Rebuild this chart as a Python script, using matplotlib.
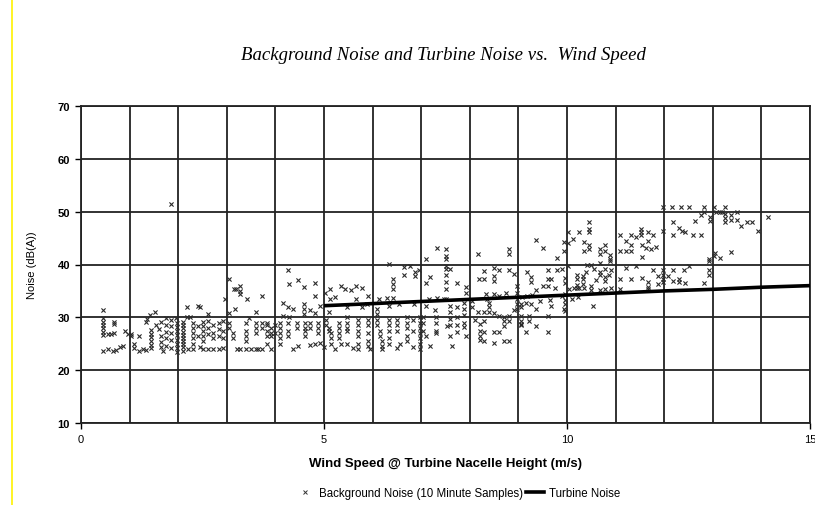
import matplotlib
matplotlib.use('Agg')
from matplotlib import pyplot as plt
from matplotlib.lines import Line2D

bg_0_1 = [(0.45, 31.3), (0.45, 29.8), (0.45, 29.2), (0.45, 28.5), (0.45, 27.9), (0.45, 27.3), (0.45, 26.6),
          (0.55, 26.8), (0.62, 26.9), (0.68, 29.2), (0.68, 28.7), (0.68, 27.0), (0.45, 23.7), (0.55, 24.0),
          (0.65, 23.6), (0.72, 23.9), (0.80, 24.3), (0.87, 24.6), (0.90, 27.4), (0.97, 26.8)]
bg_1_2 = [(1.02, 26.9), (1.02, 26.5), (1.10, 25.0), (1.10, 24.2), (1.20, 23.6), (1.20, 26.4), (1.27, 24.0),
          (1.33, 23.8), (1.33, 29.1), (1.35, 29.7), (1.43, 30.5), (1.53, 31.0), (1.45, 27.6), (1.45, 26.9),
          (1.45, 26.2), (1.45, 25.5), (1.45, 24.8), (1.45, 24.2), (1.55, 28.6), (1.60, 27.8), (1.65, 29.2),
          (1.65, 26.4), (1.65, 25.4), (1.65, 24.3), (1.68, 23.6), (1.75, 29.9), (1.75, 28.6), (1.75, 27.3),
          (1.75, 26.0), (1.75, 24.6), (1.85, 29.5), (1.85, 28.3), (1.85, 27.0), (1.85, 25.7), (1.85, 24.2),
          (1.85, 51.5), (1.95, 29.8), (1.97, 29.0), (1.97, 28.2), (1.97, 27.4), (1.97, 26.6), (1.97, 25.8),
          (1.97, 25.0), (1.97, 24.2), (1.97, 23.5)]
bg_2_3 = [(2.18, 31.9), (2.40, 32.1), (2.18, 30.0), (2.25, 30.0), (2.10, 29.1), (2.10, 28.5), (2.10, 27.9),
          (2.10, 27.3), (2.10, 26.7), (2.10, 26.1), (2.10, 25.5), (2.10, 24.9), (2.10, 24.3), (2.10, 23.6),
          (2.30, 29.0), (2.30, 28.0), (2.30, 27.0), (2.30, 26.0), (2.30, 25.0), (2.30, 24.0), (2.45, 24.3),
          (2.52, 29.2), (2.52, 28.3), (2.52, 27.4), (2.52, 26.5), (2.52, 25.5), (2.52, 24.0), (2.62, 29.4),
          (2.62, 28.0), (2.62, 26.8), (2.62, 24.0), (2.72, 28.5), (2.72, 27.0), (2.72, 26.0), (2.72, 24.0),
          (2.83, 29.0), (2.83, 27.8), (2.83, 26.5), (2.83, 24.0), (2.93, 29.3), (2.93, 27.5), (2.93, 26.0),
          (2.93, 24.2), (2.62, 30.6), (2.45, 32.0), (2.40, 28.4), (2.40, 26.5), (2.20, 24.0)]
bg_3_4 = [(3.05, 37.3), (3.14, 35.4), (3.19, 35.4), (3.27, 36.0), (3.27, 35.0), (3.27, 34.4), (3.41, 33.5),
          (3.72, 34.1), (2.96, 33.5), (3.05, 30.8), (3.17, 31.6), (3.60, 31.1), (3.45, 29.8), (3.05, 29.0),
          (3.05, 28.0), (3.12, 27.0), (3.12, 26.0), (3.20, 24.0), (3.27, 24.0), (3.40, 29.0), (3.40, 27.5),
          (3.40, 26.5), (3.40, 25.5), (3.40, 24.0), (3.60, 29.0), (3.60, 28.0), (3.60, 27.0), (3.60, 24.0),
          (3.72, 29.0), (3.72, 28.0), (3.72, 24.0), (3.82, 29.0), (3.82, 28.5), (3.82, 27.5), (3.82, 26.5),
          (3.82, 25.0), (3.90, 28.0), (3.90, 27.0), (3.90, 26.5), (3.90, 24.0), (3.50, 24.0), (3.65, 24.0)]
bg_4_5 = [(4.25, 38.9), (4.27, 36.3), (4.46, 37.1), (4.59, 35.7), (4.82, 36.5), (4.82, 34.1), (4.16, 32.8),
          (4.25, 31.9), (4.37, 31.6), (4.59, 32.5), (4.59, 31.6), (4.59, 30.6), (4.71, 31.3), (4.82, 30.8),
          (4.92, 32.2), (4.15, 30.3), (4.27, 30.0), (4.10, 29.0), (4.10, 28.0), (4.10, 27.0), (4.10, 26.0),
          (4.10, 25.0), (4.25, 29.0), (4.25, 27.5), (4.25, 26.5), (4.45, 29.0), (4.45, 28.0), (4.60, 29.0),
          (4.60, 28.0), (4.60, 27.5), (4.60, 26.5), (4.71, 29.0), (4.71, 28.0), (4.88, 29.0), (4.88, 28.0),
          (4.88, 27.0), (4.37, 24.0), (4.47, 24.6), (4.71, 24.8), (4.82, 25.0), (4.92, 25.2), (4.00, 28.5),
          (4.00, 27.0)]
bg_5_6 = [(5.03, 34.7), (5.13, 35.4), (5.34, 36.0), (5.44, 35.4), (5.56, 35.1), (5.65, 36.0), (5.78, 35.5),
          (5.90, 34.1), (5.13, 33.5), (5.23, 33.8), (5.65, 33.5), (5.47, 31.9), (5.10, 31.0), (5.78, 31.9),
          (5.88, 32.5), (5.05, 29.5), (5.05, 28.5), (5.10, 28.0), (5.10, 27.5), (5.15, 27.0), (5.15, 26.0),
          (5.15, 25.0), (5.30, 29.0), (5.30, 28.0), (5.30, 27.0), (5.30, 26.0), (5.34, 25.0), (5.23, 24.0),
          (5.47, 30.0), (5.47, 29.0), (5.47, 28.0), (5.47, 27.5), (5.47, 25.0), (5.70, 29.5), (5.70, 28.5),
          (5.70, 27.5), (5.70, 26.5), (5.70, 25.0), (5.70, 24.0), (5.90, 29.5), (5.90, 28.5), (5.90, 27.0),
          (5.90, 25.5), (5.90, 24.5), (5.95, 24.0), (5.00, 24.3), (5.60, 24.2)]
bg_6_7 = [(6.33, 40.1), (6.43, 37.3), (6.43, 36.3), (6.43, 35.4), (6.64, 39.5), (6.64, 38.1), (6.76, 39.7),
          (6.88, 38.6), (6.88, 37.9), (6.95, 39.0), (6.13, 33.5), (6.30, 33.6), (6.43, 33.6), (6.10, 31.6),
          (6.10, 30.6), (6.33, 32.2), (6.54, 32.5), (6.85, 32.5), (6.10, 29.5), (6.10, 28.5), (6.15, 27.5),
          (6.15, 26.5), (6.20, 25.5), (6.20, 24.5), (6.20, 24.0), (6.33, 29.5), (6.33, 28.5), (6.33, 27.5),
          (6.33, 26.0), (6.33, 25.0), (6.50, 29.5), (6.50, 28.5), (6.50, 27.5), (6.50, 24.2), (6.70, 30.0),
          (6.70, 29.0), (6.70, 28.0), (6.70, 26.5), (6.70, 25.5), (6.83, 29.5), (6.83, 27.5), (6.83, 24.3),
          (6.98, 30.0), (6.98, 29.0), (6.98, 28.0), (6.98, 27.0), (6.98, 26.0), (6.98, 25.0), (6.98, 24.0),
          (6.57, 25.0)]
bg_7_8 = [(7.09, 41.0), (7.33, 43.1), (7.19, 37.6), (7.09, 36.5), (7.50, 38.1), (7.16, 33.5), (7.33, 33.6),
          (7.46, 33.5), (7.09, 32.2), (7.29, 31.3), (7.03, 30.0), (7.03, 29.0), (7.03, 27.5), (7.30, 30.0),
          (7.30, 29.0), (7.30, 27.5), (7.30, 27.0), (7.19, 24.6), (7.09, 26.5), (7.52, 43.0), (7.52, 41.7),
          (7.52, 41.1), (7.52, 39.7), (7.52, 39.2), (7.60, 39.2), (7.52, 36.6), (7.52, 35.4), (7.52, 33.5),
          (7.74, 36.5), (7.92, 35.7), (7.92, 34.7), (7.60, 32.2), (7.60, 31.0), (7.60, 29.7), (7.60, 28.5),
          (7.74, 32.0), (7.74, 30.0), (7.74, 28.6), (7.88, 32.8), (7.88, 31.6), (7.88, 30.4), (7.88, 29.0),
          (7.88, 28.1), (7.74, 27.3), (7.60, 26.5), (7.64, 24.6), (7.92, 26.5), (7.54, 28.4)]
bg_8_9 = [(8.16, 42.0), (8.29, 38.7), (8.29, 37.2), (8.19, 37.2), (8.50, 39.3), (8.50, 37.8), (8.50, 36.9),
          (8.60, 38.9), (8.80, 43.0), (8.80, 42.0), (8.80, 38.9), (8.91, 38.2), (8.33, 34.4), (8.50, 34.4),
          (8.60, 34.0), (8.74, 34.7), (8.40, 32.8), (8.40, 31.9), (8.05, 31.9), (8.16, 31.1), (8.29, 31.0),
          (8.40, 31.0), (8.50, 30.8), (8.60, 30.3), (8.70, 30.0), (8.80, 30.3), (8.80, 29.3), (8.20, 28.7),
          (8.20, 27.5), (8.20, 26.5), (8.20, 25.8), (8.29, 29.3), (8.29, 27.3), (8.29, 25.6), (8.50, 27.2),
          (8.60, 27.2), (8.50, 25.2), (8.70, 25.6), (8.80, 25.6), (8.70, 29.4), (8.70, 28.4), (8.91, 31.3),
          (8.10, 29.5), (8.35, 33.5), (8.05, 33.0)]
bg_9_10 = [(9.36, 44.7), (9.50, 43.1), (9.80, 41.2), (9.93, 44.2), (9.93, 42.6), (9.17, 38.6), (9.25, 37.6),
           (9.25, 36.6), (9.36, 35.2), (9.50, 36.0), (9.60, 38.9), (9.60, 37.3), (9.68, 37.3), (9.80, 38.9),
           (9.90, 39.2), (9.60, 36.0), (8.97, 36.0), (8.97, 34.7), (8.97, 33.5), (8.97, 32.5), (8.97, 31.6),
           (9.08, 33.8), (9.17, 34.1), (9.28, 34.2), (9.66, 33.2), (9.68, 32.2), (9.90, 34.1), (9.93, 31.6),
           (9.05, 32.5), (9.05, 31.9), (9.15, 32.8), (9.25, 32.5), (9.36, 31.6), (9.60, 30.3), (9.05, 30.3),
           (9.05, 29.3), (9.05, 28.5), (9.22, 30.3), (9.22, 29.3), (9.36, 28.4), (9.60, 27.3), (9.15, 27.2),
           (9.05, 28.7), (9.95, 37.5), (9.95, 36.5), (9.95, 34.5), (9.95, 33.2), (9.95, 32.5), (9.95, 31.2),
           (9.75, 35.5), (9.45, 33.0)]
bg_10_11 = [(10.45, 48.1), (10.45, 46.7), (10.45, 46.2), (10.24, 46.2), (10.03, 46.1), (10.12, 44.9),
            (10.03, 44.1), (10.36, 44.2), (10.45, 43.6), (10.45, 43.0), (10.34, 42.6), (10.67, 43.0),
            (10.67, 42.0), (10.79, 43.6), (10.79, 42.6), (10.89, 41.8), (10.89, 41.1), (10.89, 40.6),
            (10.03, 39.7), (10.41, 39.9), (10.50, 39.9), (10.67, 40.3), (10.56, 39.2), (10.79, 39.2),
            (10.90, 38.9), (10.20, 38.1), (10.20, 37.3), (10.20, 36.2), (10.20, 35.5), (10.32, 37.8),
            (10.32, 37.2), (10.32, 36.3), (10.67, 38.6), (10.67, 38.1), (10.79, 37.6), (10.79, 36.8),
            (10.87, 38.1), (10.05, 35.4), (10.14, 35.5), (10.25, 35.5), (10.36, 35.5), (10.50, 36.0),
            (10.50, 35.1), (10.67, 35.1), (10.79, 35.4), (10.90, 35.5), (10.10, 33.5), (10.22, 33.8),
            (10.54, 32.2), (10.60, 37.0), (10.40, 38.5)]
bg_11_12 = [(11.09, 45.6), (11.21, 44.5), (11.21, 42.6), (11.32, 45.5), (11.32, 43.6), (11.32, 42.6),
            (11.41, 45.2), (11.52, 46.7), (11.52, 46.1), (11.52, 45.6), (11.66, 46.1), (11.66, 44.5),
            (11.76, 45.5), (11.54, 43.6), (11.62, 43.1), (11.73, 43.0), (11.83, 43.3), (11.54, 41.4),
            (11.09, 42.6), (11.42, 39.8), (11.21, 39.3), (11.09, 37.2), (11.32, 37.2), (11.54, 37.4),
            (11.66, 36.6), (11.66, 35.7), (11.66, 35.3), (11.76, 38.9), (11.87, 37.9), (11.87, 36.3),
            (11.09, 35.4)]
bg_12_13 = [(11.97, 50.8), (12.17, 50.8), (12.34, 50.8), (12.50, 50.8), (12.19, 48.1), (11.97, 46.4),
            (12.19, 45.5), (12.30, 47.0), (12.36, 46.4), (12.42, 46.1), (11.97, 38.9), (11.97, 38.1),
            (11.97, 37.3), (12.07, 37.8), (12.19, 38.9), (12.40, 38.9), (12.51, 39.7), (12.19, 36.8),
            (12.31, 37.3), (12.31, 36.7), (12.42, 36.5), (11.97, 36.6), (12.82, 50.8), (12.82, 50.0),
            (12.63, 48.3), (12.75, 49.3), (12.94, 49.0), (12.94, 48.3), (12.59, 45.5), (12.75, 45.5),
            (12.92, 41.1), (12.92, 40.6), (12.92, 38.9), (12.92, 38.1), (12.82, 36.5)]
bg_13_15 = [(13.02, 50.8), (13.07, 50.0), (13.14, 50.0), (13.18, 50.0), (13.26, 50.8), (13.26, 49.6),
            (13.26, 48.8), (13.26, 48.1), (13.38, 49.3), (13.38, 48.5), (13.50, 50.0), (13.50, 48.5),
            (13.59, 47.2), (13.71, 48.0), (13.81, 48.1), (13.93, 46.4), (13.05, 42.1), (13.15, 41.2),
            (13.38, 42.3), (13.02, 41.7), (14.14, 49.0)]

# turbine noise curve
turbine_speed = [5, 6, 7, 8, 9, 10, 11, 12, 13, 14, 15]
turbine_noise = [32.2, 32.6, 33.0, 33.4, 33.8, 34.2, 34.6, 35.0, 35.3, 35.7, 36.0]

bg_all = (bg_0_1 + bg_1_2 + bg_2_3 + bg_3_4 + bg_4_5 + bg_5_6 + bg_6_7 + bg_7_8 +
          bg_8_9 + bg_9_10 + bg_10_11 + bg_11_12 + bg_12_13 + bg_13_15)
bg_speed = [p[0] for p in bg_all]
bg_noise = [p[1] for p in bg_all]

sans = ['Liberation Sans Narrow', 'Liberation Sans', 'DejaVu Sans']

fig = plt.figure(figsize=(8.15, 5.06), dpi=100)
fig.set_facecolor('white')
ax = fig.add_axes([81 / 815, 82 / 506, 729 / 815, 317 / 506])

ax.scatter(bg_speed, bg_noise, marker='x', s=9, linewidths=0.8, color='#2a2a2a', zorder=3)
ax.plot(turbine_speed, turbine_noise, color='black', lw=2.6, zorder=4, solid_capstyle='butt')

ax.set_xlim(0, 15)
ax.set_ylim(10, 70)
ax.set_xticks([0, 5, 10, 15])
ax.set_xticks(range(16), minor=True)
ax.set_yticks(range(10, 71, 10))
ax.grid(True, which='both', color='#222222', lw=1.3)
ax.tick_params(which='minor', length=0)
ax.tick_params(which='major', length=4, width=1, color='black', labelsize=8, pad=4)
for lab in ax.get_xticklabels() + ax.get_yticklabels():
    lab.set_family(sans)
for lab in ax.get_yticklabels():
    lab.set_weight('bold')
for s in ax.spines.values():
    s.set_color('#222222')
    s.set_linewidth(1.3)

fig.text(443 / 815, 1 - 55 / 506, 'Background Noise and Turbine Noise vs.  Wind Speed',
         ha='center', va='center', family='Liberation Serif', style='italic', fontsize=13.5)
fig.text(446 / 815, 1 - 464 / 506, 'Wind Speed @ Turbine Nacelle Height (m/s)',
         ha='center', va='center', family=sans, weight='bold', fontsize=9.5)
fig.text(32 / 815, 1 - 265 / 506, 'Noise (dB(A))', rotation=90,
         ha='center', va='center', family=sans, fontsize=8)

handles = [Line2D([], [], marker='x', ls='none', color='#333333', markersize=3, mew=0.7),
           Line2D([], [], color='black', lw=2.6)]
fig.legend(handles, ['Background Noise (10 Minute Samples)', 'Turbine Noise'],
           loc='center', bbox_to_anchor=(458 / 815, 1 - 494 / 506), ncol=2, frameon=False,
           prop={'family': sans, 'size': 8.3}, handlelength=1.6, handletextpad=0.4,
           columnspacing=0.2, borderpad=0)

# thin yellow border line at the left of the original screenshot
fig.add_artist(Line2D([11.5 / 815, 11.5 / 815], [0, 1], color='#FFF200', lw=1.2))

fig.savefig('out.png', dpi=100)
